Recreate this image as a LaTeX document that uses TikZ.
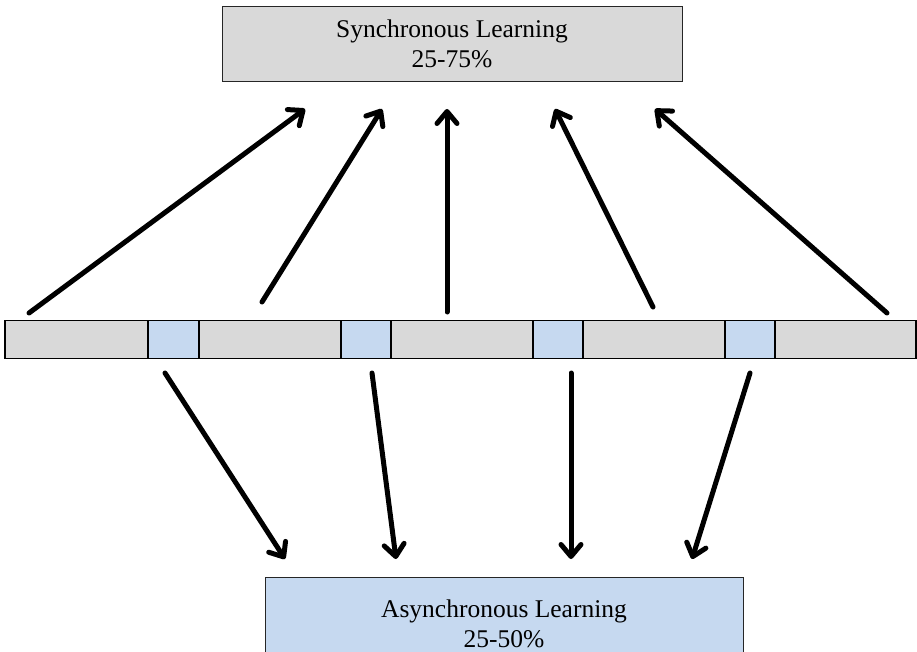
\documentclass[tikz,border=0pt]{standalone}
\usepackage{fontspec}
\setmainfont{Liberation Serif}
\usetikzlibrary{arrows.meta}
\definecolor{boxgray}{HTML}{D9D9D9}
\definecolor{boxblue}{HTML}{C6D9F0}
\tikzset{
  bigbox/.style={draw=black!85, line width=1pt, align=center, inner sep=0pt,
    font=\fontsize{25.5}{30}\selectfont},
  seg/.style={draw=black, line width=1.6pt, minimum height=38pt, inner sep=0pt},
  graysegbox/.style={seg, fill=boxgray},
  bluesegbox/.style={seg, fill=boxblue},
  bigarrow/.style={line width=5pt, line cap=round, line join=round,
    -{Straight Barb[length=12pt,width=20pt,round]}}
}
\begin{document}
\begin{tikzpicture}[x=1pt,y=-1pt]
\useasboundingbox (0,0) rectangle (917,652);
\begin{scope}
\clip (0,0) rectangle (917,652);
% top and bottom boxes
\node[bigbox, fill=boxgray, minimum width=460pt, minimum height=75pt] (sync) at (452,44) {Synchronous Learning\\25-75\%};
\node[bigbox, fill=boxblue, minimum width=478pt, minimum height=94pt] (async) at (504,624) {Asynchronous Learning\\25-50\%};
\end{scope}
% bar
\node[graysegbox, minimum width=143pt] (g1) at (76.5,339.5) {};
\node[bluesegbox, minimum width=51pt] (b1) at (173.5,339.5) {};
\node[graysegbox, minimum width=142pt] (g2) at (270,339.5) {};
\node[bluesegbox, minimum width=50pt] (b2) at (366,339.5) {};
\node[graysegbox, minimum width=142pt] (g3) at (462,339.5) {};
\node[bluesegbox, minimum width=50pt] (b3) at (558,339.5) {};
\node[graysegbox, minimum width=142pt] (g4) at (654,339.5) {};
\node[bluesegbox, minimum width=50pt] (b4) at (750,339.5) {};
\node[graysegbox, minimum width=141pt] (g5) at (845.5,339.5) {};
% arrow end points
\coordinate (u1s) at (29,313);  \coordinate (u1e) at (305,109);
\coordinate (u2s) at (262,302); \coordinate (u2e) at (382,109);
\coordinate (u3s) at (447,312); \coordinate (u3e) at (447,109);
\coordinate (u4s) at (653,307); \coordinate (u4e) at (555,109);
\coordinate (u5s) at (887,313); \coordinate (u5e) at (655,109);
\coordinate (d1s) at (165,373); \coordinate (d1e) at (285,559);
\coordinate (d2s) at (372,373); \coordinate (d2e) at (396,559);
\coordinate (d3s) at (571,373); \coordinate (d3e) at (571,559);
\coordinate (d4s) at (750,373); \coordinate (d4e) at (692,559);
\foreach \i in {1,...,5} \draw[bigarrow] (u\i s) -- (u\i e);
\foreach \i in {1,...,4} \draw[bigarrow] (d\i s) -- (d\i e);
\end{tikzpicture}
\end{document}
